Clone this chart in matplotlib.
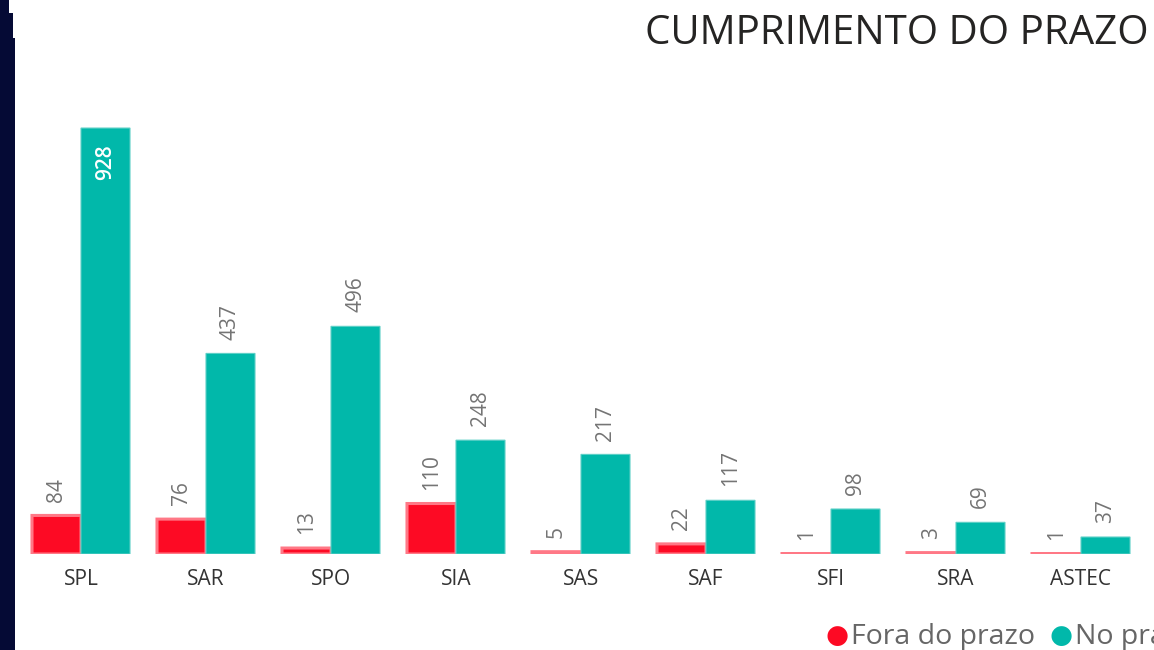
import matplotlib.pyplot as plt
import matplotlib.patches as mpatches
import numpy as np

# ── Dados ────────────────────────────────────────────────────
setores = ["SPL", "SAR", "SPO", "SIA", "SAS", "SAF", "SFI", "SRA", "ASTEC"]
fora_do_prazo = [84, 76, 13, 110, 5, 22, 1, 3, 1]
no_prazo = [928, 437, 496, 248, 217, 117, 98, 69, 37]

cor_fora = "#FD0A24"
cor_no = "#01B8AA"

plt.rcParams["font.family"] = ["Open Sans", "DejaVu Sans"]

fig = plt.figure(figsize=(11.54, 6.5), dpi=100)
fig.patch.set_facecolor("white")

# faixa escura do slide à esquerda
fig.patches.append(mpatches.Rectangle((0, 0), 15 / 1154, 1, transform=fig.transFigure,
                                      facecolor="#050a35", edgecolor="none", zorder=0))
# recorte branco no canto superior
fig.patches.append(mpatches.Rectangle((9 / 1154, 1 - 13 / 650), 6 / 1154, 13 / 650,
                                      transform=fig.transFigure, facecolor="white",
                                      edgecolor="none", zorder=1))
fig.patches.append(mpatches.Rectangle((13 / 1154, 1 - 38 / 650), 2 / 1154, 38 / 650,
                                      transform=fig.transFigure, facecolor="white",
                                      edgecolor="none", zorder=1))

ax = fig.add_axes([18.5 / 1154, 96 / 650, 1125 / 1154, 459 / 650])
ax.set_facecolor("white")

x = np.arange(len(setores))
w = 0.392
b1 = ax.bar(x - w / 2, fora_do_prazo, w, color=cor_fora, edgecolor="#ff7886",
            linewidth=2.2, snap=False)
b2 = ax.bar(x + w / 2, no_prazo, w, color=cor_no, edgecolor="#5ccfc6",
            linewidth=0.8, snap=False)

ax.set_xlim(-0.5, len(setores) - 0.5)
ax.set_ylim(0, 1000)

# rótulos de dados (rotacionados)
for barras in (b1, b2):
    for r in barras:
        v = r.get_height()
        cx = r.get_x() + r.get_width() / 2
        if v > 800:
            ax.annotate(f"{v:.0f}", (cx, v), xytext=(0, -12), textcoords="offset points",
                        rotation=90, ha="center", va="top", fontsize=15,
                        color="white", fontweight="semibold")
        else:
            ax.annotate(f"{v:.0f}", (cx, v), xytext=(0, 10), textcoords="offset points",
                        rotation=90, ha="center", va="bottom", fontsize=15, color="#747474")

ax.set_xticks(x)
ax.set_xticklabels(setores, fontsize=15, color="#333333")
ax.tick_params(axis="x", length=0, pad=11)
ax.set_yticks([])
for s in ax.spines.values():
    s.set_visible(False)

# título
fig.text(645 / 1154, 1 - 34 / 650, "CUMPRIMENTO DO PRAZO", fontsize=29,
         color="#252423", ha="left", va="center")

# legenda (cortada na borda direita, como no original)
fig.text(837 / 1154, 1 - 636 / 650, "●", fontsize=19, color=cor_fora, ha="center", va="center")
fig.text(851 / 1154, 1 - 637 / 650, "Fora do prazo", fontsize=20.5, color="#666666",
         ha="left", va="center")
fig.text(1061 / 1154, 1 - 636 / 650, "●", fontsize=19, color=cor_no, ha="center", va="center")
fig.text(1075 / 1154, 1 - 637 / 650, "No prazo", fontsize=20.5, color="#666666",
         ha="left", va="center")

plt.savefig("out.png", dpi=100)
